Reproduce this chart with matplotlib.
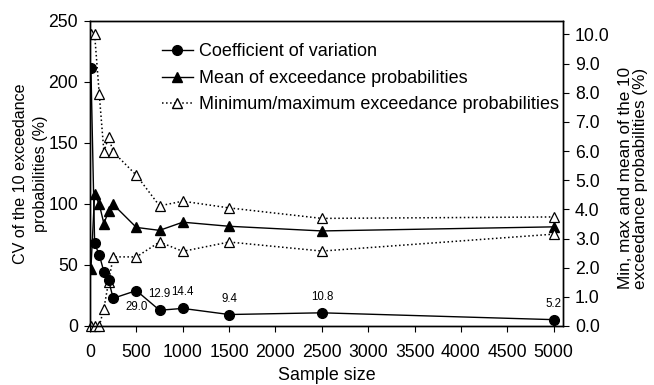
import matplotlib
matplotlib.use("Agg")
import matplotlib.pyplot as plt
from matplotlib.lines import Line2D

plt.rcParams['font.family'] = ['Liberation Sans', 'DejaVu Sans']

sizes = [10, 50, 100, 150, 200, 250, 500, 750, 1000, 1500, 2500, 5000]
cv = [211, 67.7, 58.1, 44.5, 37.5, 22.7, 29.0, 12.9, 14.4, 9.4, 10.8, 5.2]
mean_p = [1.97, 4.54, 4.17, 3.51, 3.94, 4.17, 3.38, 3.28, 3.56, 3.42, 3.26, 3.40]
max_p = [10.0, 10.0, 7.94, 5.97, 6.49, 5.97, 5.17, 4.12, 4.28, 4.05, 3.69, 3.74]
min_p = [0.0, 0.0, 0.0, 0.60, 1.51, 2.37, 2.37, 2.88, 2.56, 2.88, 2.57, 3.15]
labelled = [500, 750, 1000, 1500, 2500, 5000]
x_ticks = [0, 500, 1000, 1500, 2000, 2500, 3000, 3500, 4000, 4500, 5000]
left_ticks = [0, 50, 100, 150, 200, 250]
right_ticks = [0, 1, 2, 3, 4, 5, 6, 7, 8, 9, 10]

fig = plt.figure(figsize=(6.54, 3.85), dpi=100)
ax = fig.add_axes([90/654, 1-326/385, (563-90)/654, (326-20.7)/385])
ax2 = ax.twinx()

ax.plot(sizes, cv, '-', color='black', lw=1.0, marker='o', ms=7, zorder=5)
for s, v in zip(sizes, cv):
    if s in labelled:
        dy = -12 if s == 500 else 11.5
        ax.annotate(f"{v:.1f}", (s, v), xytext=(0, dy), textcoords='offset points',
                    ha='center', va='center', fontsize=8.3)

ax2.plot(sizes, mean_p, '-', color='black', lw=1.0, marker='^', ms=7)
ax2.plot(sizes, max_p, ':', color='black', lw=1.1, marker='^', ms=7.5,
         mfc='white', mec='black', mew=0.9)
ax2.plot(sizes, min_p, ':', color='black', lw=1.1, marker='^', ms=7.5,
         mfc='white', mec='black', mew=0.9, clip_on=False)

ax.set_xlim(0, 5100)
ax.set_ylim(0, 250)
ax2.set_ylim(0, 10.47)
ax.set_xticks(x_ticks)
ax.set_yticks(left_ticks)
ax2.set_yticks(right_ticks)
ax2.set_yticklabels([f"{t:.1f}" for t in right_ticks])

for a in (ax, ax2):
    a.tick_params(labelsize=12.7, length=4, width=0.8, direction='out')
    for sp in a.spines.values():
        sp.set_linewidth(1.0)
ax.tick_params(axis='x', pad=9)
ax.tick_params(axis='y', pad=4.5)
ax2.tick_params(axis='y', pad=4.5)
ax.set_zorder(ax2.get_zorder() + 1)
ax.patch.set_visible(False)

ax.set_xlabel("Sample size", fontsize=12.9)
ax.xaxis.set_label_coords((327-90)/473, -(376-326)/305.3)
ax.xaxis.label.set_va('center')

ax.set_ylabel("CV of the 10 exceedance\nprobabilities (%)", fontsize=11.6, linespacing=1.45)
ax.yaxis.set_label_coords((30.5-90)/473, 0.5)
ax.yaxis.label.set_va('center')

ax2.set_ylabel("Min, max and mean of the 10\nexceedance probabilities (%)", fontsize=12.3,
               linespacing=0.95)
ax2.yaxis.set_label_coords((633-90)/473, (326-178.4)/305.3)
ax2.yaxis.label.set_va('center')

handles = [
    Line2D([], [], color='black', lw=1.0, marker='o', ms=7),
    Line2D([], [], color='black', lw=1.0, marker='^', ms=7),
    Line2D([], [], color='black', lw=1.1, ls=':', marker='^', ms=7.5, mfc='white', mec='black'),
]
labels = ["Coefficient of variation", "Mean of exceedance probabilities",
          "Minimum/maximum exceedance probabilities"]
leg = ax.legend(handles, labels, loc='upper left',
                bbox_to_anchor=((161.7-90)/473, (326-43.5)/305.3),
                frameon=False, fontsize=13, handlelength=1.75, handletextpad=0.3,
                labelspacing=0.52, borderaxespad=0, borderpad=0)

fig.savefig("out.png", dpi=100)
